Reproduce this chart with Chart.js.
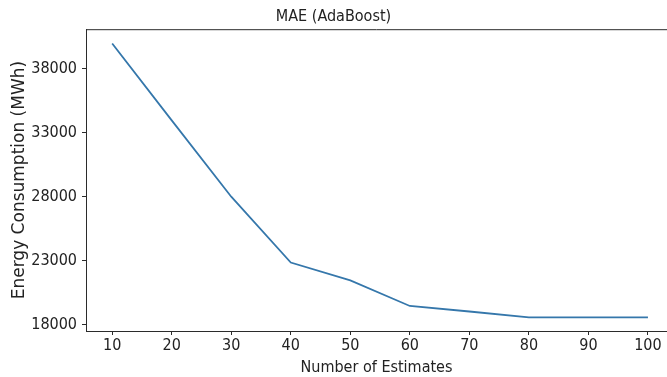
<!DOCTYPE html>
<html>
<head>
<meta charset="utf-8">
<script src="https://cdn.jsdelivr.net/npm/chart.js@4/dist/chart.umd.min.js"></script>
<style>
  html, body { margin: 0; padding: 0; background: #fff; }
  #maeChart { display: block; }
</style>
</head>
<body>
<canvas id="maeChart" width="667" height="377"></canvas>
<script>
// values
const estimators = [10, 20, 30, 40, 50, 60, 70, 80, 90, 100];
const maeValues = [39950, 33950, 28000, 22870, 21470, 19480, 19050, 18600, 18600, 18600];
const xTicks = [10, 20, 30, 40, 50, 60, 70, 80, 90, 100];
const yTicks = [18000, 23000, 28000, 33000, 38000];

const narrow = "'DejaVu Sans Condensed', 'Liberation Sans Narrow', 'DejaVu Sans', sans-serif";
const axisColor = '#2b2b2b';

// top spine, like a matplotlib frame
const topSpine = {
  id: 'topSpine',
  afterDraw(chart) {
    const {ctx, chartArea} = chart;
    ctx.save();
    ctx.strokeStyle = axisColor;
    ctx.lineWidth = 1;
    ctx.beginPath();
    ctx.moveTo(chartArea.left, chartArea.top + 0.5);
    ctx.lineTo(chartArea.right, chartArea.top + 0.5);
    ctx.stroke();
    ctx.restore();
  }
};

new Chart(document.getElementById('maeChart'), {
  type: 'line',
  data: {
    datasets: [{
      data: estimators.map((x, i) => ({x: x, y: maeValues[i]})),
      borderColor: '#3577ab',
      borderWidth: 1.8,
      pointRadius: 0,
      tension: 0,
      fill: false
    }]
  },
  options: {
    responsive: false,
    animation: false,
    devicePixelRatio: 1,
    layout: {padding: 0},
    plugins: {
      legend: {display: false},
      tooltip: {enabled: false},
      title: {
        display: true,
        text: 'MAE (AdaBoost)',
        color: '#222',
        font: {family: narrow, size: 16, weight: 'normal'},
        padding: {top: 7, bottom: 3}
      }
    },
    scales: {
      x: {
        type: 'linear',
        min: 5.6,
        max: 103.2,
        afterBuildTicks: (s) => { s.ticks = xTicks.map(v => ({value: v})); },
        afterFit: (s) => { s.height = 46; },
        grid: {drawOnChartArea: false, tickLength: 4, color: axisColor},
        border: {display: true, color: axisColor, width: 1},
        ticks: {color: '#222', padding: 1, maxRotation: 0, font: {family: narrow, size: 16}},
        title: {
          display: true,
          text: 'Number of Estimates',
          color: '#222',
          font: {family: narrow, size: 16},
          padding: {top: 0, bottom: 0}
        }
      },
      y: {
        min: 17530,
        max: 41060,
        afterBuildTicks: (s) => { s.ticks = yTicks.map(v => ({value: v})); },
        afterFit: (s) => { s.width = 86; },
        grid: {drawOnChartArea: false, tickLength: 4, color: axisColor},
        border: {display: true, color: axisColor, width: 1},
        ticks: {color: '#222', padding: 5, font: {family: narrow, size: 16},
          callback: (v) => String(v)},
        title: {
          display: true,
          text: 'Energy Consumption (MWh)',
          color: '#222',
          font: {family: "'DejaVu Sans', sans-serif", size: 17},
          padding: {top: 9, bottom: 0}
        }
      }
    }
  },
  plugins: [topSpine]
});
</script>
</body>
</html>
